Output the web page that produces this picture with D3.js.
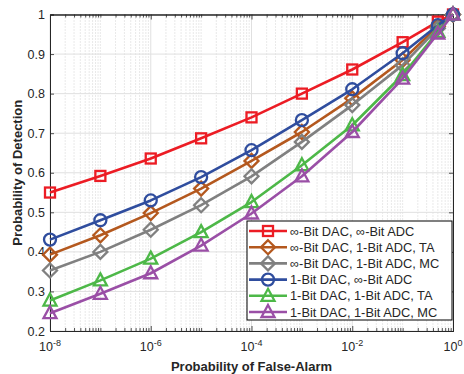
<!DOCTYPE html>
<html>
<head>
<meta charset="utf-8">
<script src="https://cdn.jsdelivr.net/npm/d3@7"></script>
<style>
  body { margin: 0; background: #fff; }
  svg { font-family: "Liberation Sans", Arial, Helvetica, sans-serif; }
</style>
</head>
<body>
<div id="chart"></div>
<script>
// false alarm probabilities (x)
const pfa = [1e-8, 1e-7, 1e-6, 1e-5, 1e-4, 1e-3, 1e-2, 1e-1, 0.5, 1];

// detection probabilities
const pdInfInf   = [0.550, 0.592, 0.636, 0.687, 0.740, 0.800, 0.861, 0.930, 0.982, 1.0];
const pdInfOneTA = [0.393, 0.442, 0.498, 0.560, 0.630, 0.703, 0.788, 0.885, 0.970, 1.0];
const pdInfOneMC = [0.353, 0.400, 0.456, 0.518, 0.591, 0.678, 0.771, 0.872, 0.965, 1.0];
const pdOneInf   = [0.431, 0.480, 0.530, 0.589, 0.657, 0.733, 0.811, 0.902, 0.973, 1.0];
const pdOneOneTA = [0.277, 0.328, 0.383, 0.450, 0.526, 0.619, 0.720, 0.847, 0.956, 1.0];
const pdOneOneMC = [0.245, 0.294, 0.346, 0.416, 0.497, 0.591, 0.703, 0.838, 0.952, 1.0];

const seriesNames = [
  "\u221E-Bit DAC, \u221E-Bit ADC",
  "\u221E-Bit DAC, 1-Bit ADC, TA",
  "\u221E-Bit DAC, 1-Bit ADC, MC",
  "1-Bit DAC, \u221E-Bit ADC",
  "1-Bit DAC, 1-Bit ADC, TA",
  "1-Bit DAC, 1-Bit ADC, MC"
];
const seriesColors = ["#ec1c24", "#b4581e", "#808080", "#2f4d9e", "#4db848", "#9a4fa6"];
const seriesMarkers = ["square", "diamond", "diamond", "circle", "triangle", "triangle"];
const seriesValues = [pdInfInf, pdInfOneTA, pdInfOneMC, pdOneInf, pdOneOneTA, pdOneOneMC];

const yTicks = [0.2, 0.3, 0.4, 0.5, 0.6, 0.7, 0.8, 0.9, 1];
const xLabelExps = [-8, -6, -4, -2, 0];

const W = 464, H = 374;
const margin = { top: 14.5, right: 11, bottom: 43, left: 50 };
const iw = W - margin.left - margin.right;
const ih = H - margin.top - margin.bottom;
const axisColor = "#262626";

const svg = d3.select("#chart").append("svg")
  .attr("width", W).attr("height", H);
const g = svg.append("g").attr("transform", `translate(${margin.left},${margin.top})`);

const x = d3.scaleLog().domain([1e-8, 1]).range([0, iw]);
const y = d3.scaleLinear().domain([0.2, 1]).range([ih, 0]);

// minor positions k*10^n, majors every decade
const decades = d3.range(-8, 1);
const minorX = [];
decades.slice(0, -1).forEach(e => {
  for (let k = 2; k <= 9; k++) minorX.push(k * Math.pow(10, e));
});
const oddDecades = decades.filter(e => e % 2 !== 0).map(e => Math.pow(10, e));
const evenDecades = xLabelExps.map(e => Math.pow(10, e));

// grid
g.append("g").selectAll("line.minor")
  .data(minorX.concat(oddDecades))
  .join("line")
  .attr("x1", d => x(d)).attr("x2", d => x(d))
  .attr("y1", 0).attr("y2", ih)
  .attr("stroke", "#c8c8c8").attr("stroke-width", 0.8)
  .attr("stroke-dasharray", "1,2");

g.append("g").selectAll("line.majx")
  .data(evenDecades)
  .join("line")
  .attr("x1", d => x(d)).attr("x2", d => x(d))
  .attr("y1", 0).attr("y2", ih)
  .attr("stroke", "#e0e0e0").attr("stroke-width", 1);

g.append("g").selectAll("line.majy")
  .data(yTicks)
  .join("line")
  .attr("x1", 0).attr("x2", iw)
  .attr("y1", d => y(d)).attr("y2", d => y(d))
  .attr("stroke", "#e0e0e0").attr("stroke-width", 1);

// axes (ticks pointing inward)
const xAxisB = d3.axisBottom(x).tickValues(evenDecades).tickSize(-5).tickPadding(8).tickFormat("");
const xAxisT = d3.axisTop(x).tickValues(evenDecades).tickSize(-5).tickFormat("");
const xMinB = d3.axisBottom(x).tickValues(minorX.concat(oddDecades)).tickSize(-3).tickFormat("");
const xMinT = d3.axisTop(x).tickValues(minorX.concat(oddDecades)).tickSize(-3).tickFormat("");
const yAxisL = d3.axisLeft(y).tickValues(yTicks).tickSize(-4).tickPadding(5).tickFormat(d3.format("~g"));
const yAxisR = d3.axisRight(y).tickValues(yTicks).tickSize(-4).tickFormat("");

function styleAxis(sel) {
  sel.selectAll("path").attr("stroke", axisColor).attr("stroke-width", 1);
  sel.selectAll("line").attr("stroke", axisColor).attr("stroke-width", 0.8);
  sel.selectAll("text").attr("fill", axisColor).attr("font-size", 12.5)
    .attr("font-family", "'Liberation Sans', Arial, sans-serif");
}

g.append("g").attr("transform", `translate(0,${ih})`).call(xMinB).call(styleAxis);
g.append("g").call(xMinT).call(styleAxis);
g.append("g").attr("transform", `translate(0,${ih})`).call(xAxisB).call(styleAxis);
g.append("g").call(xAxisT).call(styleAxis);
g.append("g").call(yAxisL).call(styleAxis);
g.append("g").attr("transform", `translate(${iw},0)`).call(yAxisR).call(styleAxis);

// x tick labels with superscripts
const xl = g.append("g").selectAll("text.xl")
  .data(xLabelExps)
  .join("text")
  .attr("x", d => x(Math.pow(10, d)))
  .attr("y", ih + 20)
  .attr("text-anchor", "middle")
  .attr("font-size", 12.5)
  .attr("fill", axisColor);
xl.append("tspan").text("10");
xl.append("tspan").attr("dy", -5).attr("font-size", 9).text(d => d);

// axis titles
svg.append("text")
  .attr("x", margin.left + iw / 2).attr("y", H - 3)
  .attr("text-anchor", "middle")
  .attr("font-size", 13).attr("font-weight", "bold")
  .attr("fill", axisColor)
  .text("Probability of False-Alarm");

svg.append("text")
  .attr("transform", `translate(22,${margin.top + ih / 2}) rotate(-90)`)
  .attr("text-anchor", "middle")
  .attr("font-size", 13).attr("font-weight", "bold")
  .attr("fill", axisColor)
  .text("Probability of Detection");

// markers
function drawMarker(sel, type, color) {
  const sw = 2.3;
  if (type === "square") {
    sel.append("rect").attr("x", -5).attr("y", -5).attr("width", 10).attr("height", 10)
      .attr("fill", "none").attr("stroke", color).attr("stroke-width", sw);
  } else if (type === "circle") {
    sel.append("circle").attr("r", 6)
      .attr("fill", "none").attr("stroke", color).attr("stroke-width", sw);
  } else if (type === "diamond") {
    sel.append("path").attr("d", "M0,-7L7,0L0,7L-7,0Z")
      .attr("fill", "none").attr("stroke", color).attr("stroke-width", sw);
  } else {
    sel.append("path").attr("d", "M0,-7L6.5,5L-6.5,5Z")
      .attr("fill", "none").attr("stroke", color).attr("stroke-width", sw);
  }
}

const line = d3.line().x(d => x(d[0])).y(d => y(d[1]));

seriesValues.forEach((vals, i) => {
  const pts = pfa.map((p, j) => [p, vals[j]]);
  g.append("path").datum(pts)
    .attr("d", line)
    .attr("fill", "none")
    .attr("stroke", seriesColors[i])
    .attr("stroke-width", 2.6)
    .attr("stroke-linejoin", "round");
  pts.forEach(p => {
    const m = g.append("g").attr("transform", `translate(${x(p[0])},${y(p[1])})`);
    drawMarker(m, seriesMarkers[i], seriesColors[i]);
  });
});

// legend
const leg = svg.append("g").attr("transform", "translate(247,221)");
leg.append("rect").attr("width", 205).attr("height", 99)
  .attr("fill", "#fff").attr("stroke", "#000").attr("stroke-width", 1);
seriesNames.forEach((name, i) => {
  const ly = 10 + i * 16.2;
  const row = leg.append("g").attr("transform", `translate(0,${ly})`);
  row.append("line").attr("x1", 2).attr("x2", 40).attr("y1", 0).attr("y2", 0)
    .attr("stroke", seriesColors[i]).attr("stroke-width", 2.6);
  const m = row.append("g").attr("transform", "translate(21,0)");
  drawMarker(m, seriesMarkers[i], seriesColors[i]);
  row.append("text").attr("x", 43).attr("y", 4.5)
    .attr("font-size", 12.8).attr("fill", axisColor)
    .text(name);
});
</script>
</body>
</html>
